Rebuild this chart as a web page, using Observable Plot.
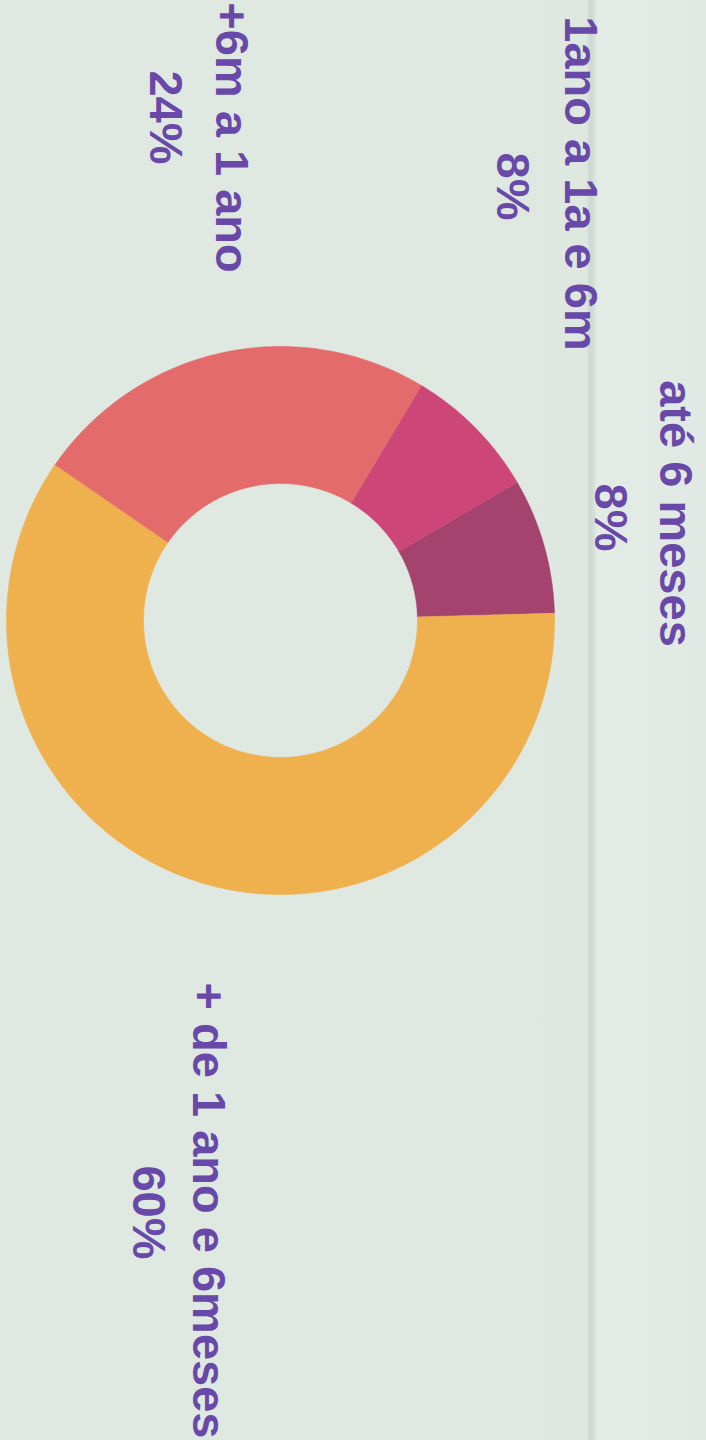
<!DOCTYPE html>
<html>
<head>
<meta charset="utf-8">
<script src="https://cdn.jsdelivr.net/npm/d3@7"></script>
<script src="https://cdn.jsdelivr.net/npm/@observablehq/plot@0.6"></script>
<style>
  html, body { margin: 0; padding: 0; background: #ffffff; }
  #chart {
    width: 706px; height: 1440px; overflow: hidden;
    background: linear-gradient(to right, #dfe8e1 0px, #dee7e0 586px, #ced7d1 590px, #d3dcd6 593px, #e3ebe5 597px, #e0e9e3 706px);
  }
</style>
</head>
<body>
<div id="chart"></div>
<script>
// ---- data ----
const categories = ["até 6 meses", "1ano a 1a e 6m", "+6m a 1 ano", "+ de 1 ano e 6meses"];
const values = [8, 8, 24, 60];
const colors = ["#a5436f", "#cc4678", "#e46b6b", "#eeb14e"];

// ---- layout (the photographed page is rotated 90° clockwise) ----
const W = 706, H = 1440;
const CX = 280, CY = 620, R_OUT = 274, R_IN = 137;
const START = 1.5 * Math.PI / 180;            // slight tilt of the scan
const namePos = [[675, 513], [580, 183], [231, 137], [208, 1210]];
const pctPos  = [[610, 517], [512, 186], [165, 117], [148, 1212]];
const textColor = "#6849aa";
const FS = 47;

// slices: counterclockwise in the picture starting from the right
const pie = d3.pie().sort(null).value(d => d.value).startAngle(0).endAngle(2 * Math.PI);
const arcs = pie(categories.map((c, i) => ({category: c, value: values[i]})));

const poly = [];
arcs.forEach(a => {
  const a0 = START + a.startAngle, a1 = START + a.endAngle;
  const n = Math.max(4, Math.ceil((a1 - a0) / (Math.PI / 180)));
  for (let k = 0; k <= n; k++) {
    const t = a0 + (a1 - a0) * k / n;
    poly.push({category: a.data.category, x: CX + R_OUT * Math.cos(t), y: CY - R_OUT * Math.sin(t)});
  }
  for (let k = n; k >= 0; k--) {
    const t = a0 + (a1 - a0) * k / n;
    poly.push({category: a.data.category, x: CX + R_IN * Math.cos(t), y: CY - R_IN * Math.sin(t)});
  }
});

const nameLabels = categories.map((c, i) => ({text: c, x: namePos[i][0], y: namePos[i][1]}));
const pctLabels = values.map((v, i) => ({text: `${v}%`, x: pctPos[i][0], y: pctPos[i][1]}));

const textOpts = {
  x: "x", y: "y", text: "text",
  rotate: 90, fontSize: FS,
  fontWeight: "bold", fill: textColor,
  textAnchor: "middle", lineAnchor: "middle"
};

const chart = Plot.plot({
  width: W,
  height: H,
  margin: 0,
  style: {background: "transparent", fontFamily: "'Liberation Sans', Arial, sans-serif"},
  x: {domain: [0, W], range: [0, W], axis: null},
  y: {domain: [0, H], range: [0, H], axis: null},
  color: {domain: categories, range: colors},
  marks: [
    Plot.line(poly, {x: "x", y: "y", z: "category", fill: "category", stroke: "category", strokeWidth: 0.6, curve: "linear-closed"}),
    Plot.text(nameLabels, textOpts),
    Plot.text(pctLabels, textOpts)
  ]
});
document.getElementById("chart").appendChild(chart);
</script>
</body>
</html>
